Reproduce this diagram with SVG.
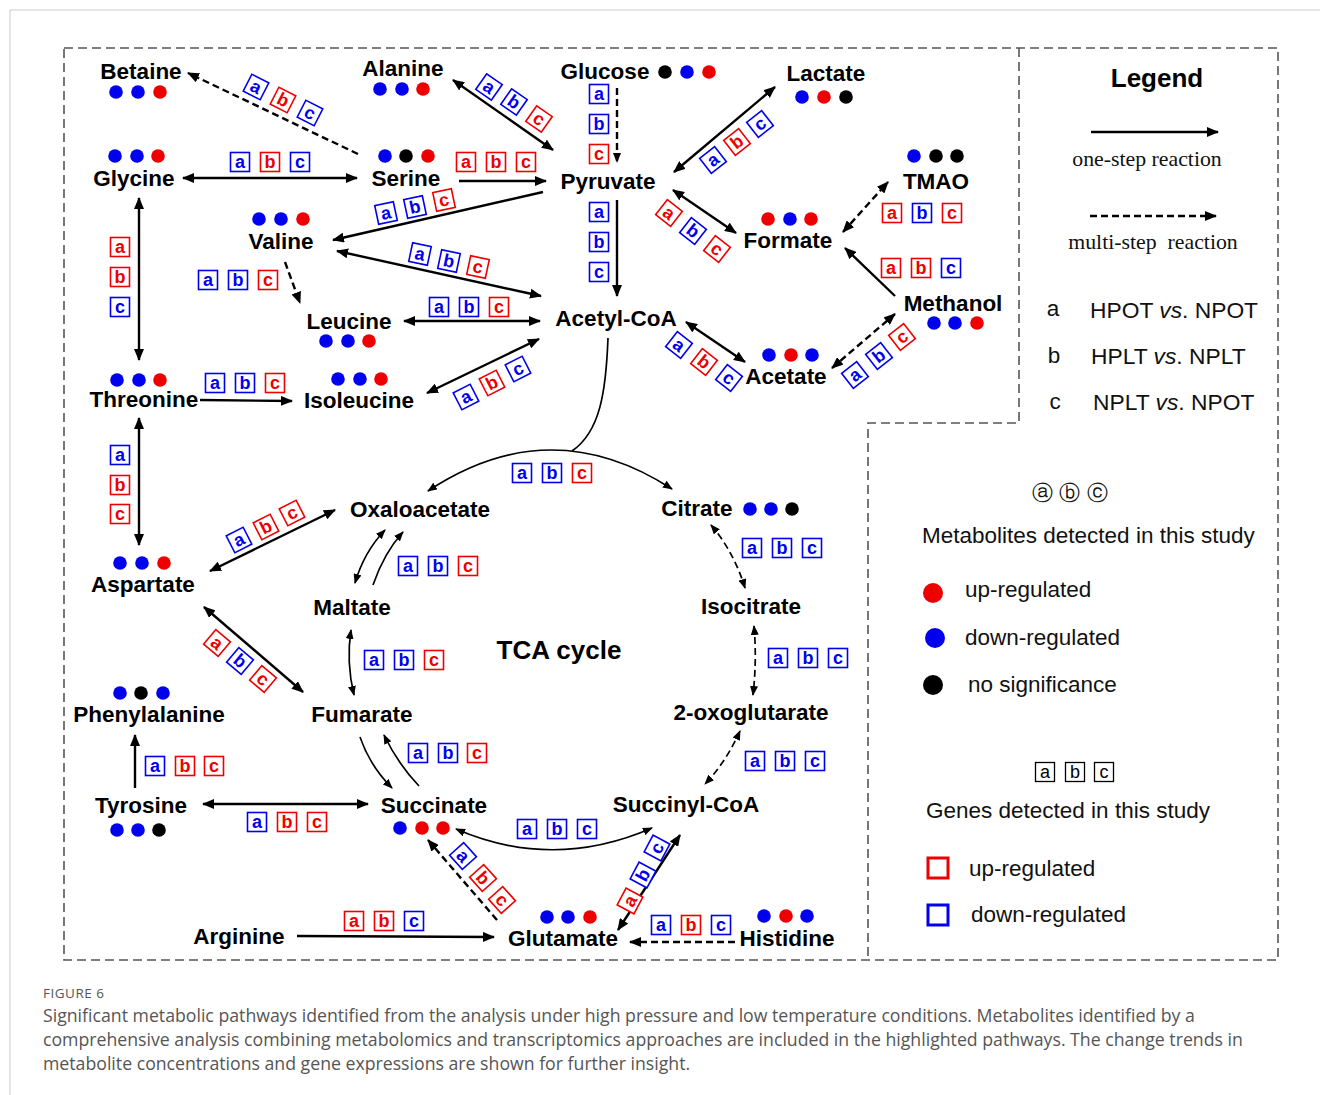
<svg xmlns="http://www.w3.org/2000/svg" width="1320" height="1095" viewBox="0 0 1320 1095">
<defs>
<marker id="ah" viewBox="0 0 12 10" refX="11" refY="5" markerWidth="12" markerHeight="10" orient="auto-start-reverse" markerUnits="userSpaceOnUse"><path d="M0,0 L12,5 L0,10 z" fill="#000"/></marker>
<marker id="ahs" viewBox="0 0 10 8" refX="9" refY="4" markerWidth="10" markerHeight="8" orient="auto-start-reverse" markerUnits="userSpaceOnUse"><path d="M0,0 L10,4 L0,8 z" fill="#000"/></marker>
<style>
.nd{font-family:"Liberation Sans",Arial,sans-serif;font-weight:bold;font-size:22.5px;fill:#000;text-anchor:middle}
.db{fill:#0000ee}.dr{fill:#ee0000}.dk{fill:#000}
.gb rect{fill:#fff;stroke-width:1.6}
.gb text{font-family:"Liberation Sans",Arial,sans-serif;font-weight:bold;font-size:18px;text-anchor:middle}
.r rect{stroke:#ee0000}.r text{fill:#ee0000}
.b rect{stroke:#0000ee}.b text{fill:#0000ee}
.k rect{stroke:#000;stroke-width:1.3}.k text{fill:#000;font-weight:normal}
.ln{fill:none;stroke:#000;stroke-width:2.4}
.th{fill:none;stroke:#000;stroke-width:1.7}
.ds{stroke-dasharray:7,4}
.frame{fill:none;stroke:#555;stroke-width:1.6;stroke-dasharray:9,5}
.lg{font-family:"Liberation Sans",Arial,sans-serif;font-size:22.5px;fill:#111}
.sf{font-family:"Liberation Serif","Times New Roman",serif;font-size:21.8px;fill:#111;text-anchor:middle}
.cap{font-family:"Open Sans","Noto Sans",sans-serif;font-size:17.7px;fill:#555}
</style>
</defs>
<rect width="1320" height="1095" fill="#fff"/>
<line x1="10" y1="10" x2="1320" y2="10" stroke="#ccc" stroke-width="1"/>
<line x1="10" y1="10" x2="10" y2="1095" stroke="#ccc" stroke-width="1"/>

<g id="frames">
<rect class="frame" x="64" y="48" width="1214" height="912"/>
<path class="frame" d="M1019,48 V423 H868 V960"/>
</g>

<g id="connectors">
<path class="ln ds" d="M358,154 L188,73" marker-end="url(#ah)"/>
<path class="ln" d="M183,178 L357,178" marker-start="url(#ah)" marker-end="url(#ah)"/>
<path class="ln" d="M453,80 L553,150" marker-start="url(#ah)" marker-end="url(#ah)"/>
<path class="ln ds" d="M617,88 L617,162" stroke-width="2" marker-end="url(#ahs)"/>
<path class="ln" d="M459,181 L546,181" marker-end="url(#ah)"/>
<path class="ln" d="M674,172 L775,87" marker-start="url(#ah)" marker-end="url(#ah)"/>
<path class="ln" d="M543,192 L333,240" marker-end="url(#ah)"/>
<path class="ln" d="M337,251 L541,296" marker-start="url(#ah)" marker-end="url(#ah)"/>
<path class="ln" d="M617,200 L617,296" marker-end="url(#ah)"/>
<path class="ln ds" d="M285,262 L300,303" marker-end="url(#ah)"/>
<path class="ln" d="M404,321 L540,321" marker-start="url(#ah)" marker-end="url(#ah)"/>
<path class="ln" d="M139,198 L139,360" marker-start="url(#ah)" marker-end="url(#ah)"/>
<path class="ln" d="M200,400 L292,401" marker-end="url(#ah)"/>
<path class="ln" d="M427,393 L539,339" marker-start="url(#ah)" marker-end="url(#ah)"/>
<path class="ln" d="M673,190 L736,233" marker-start="url(#ah)" marker-end="url(#ah)"/>
<path class="ln ds" d="M843,232 L888,182" marker-start="url(#ah)" marker-end="url(#ah)"/>
<path class="ln" d="M895,296 L845,248" marker-end="url(#ah)"/>
<path class="ln" d="M686,322 L745,362" marker-start="url(#ah)" marker-end="url(#ah)"/>
<path class="ln ds" d="M832,368 L895,314" marker-start="url(#ah)" marker-end="url(#ah)"/>
<path class="th" d="M428,491 Q550,410 672,489" marker-start="url(#ahs)" marker-end="url(#ahs)"/>
<path class="th" d="M608,338 C606,392 600,432 572,451" stroke-width="1.3"/>
<path class="ln" d="M335,510 L210,571" marker-start="url(#ah)" marker-end="url(#ah)"/>
<path class="ln" d="M139,418 L139,545" marker-start="url(#ah)" marker-end="url(#ah)"/>
<path class="th" d="M385,530 Q364,552 355,583" marker-start="url(#ahs)" marker-end="url(#ahs)"/>
<path class="th" d="M373,585 Q384,553 403,532" marker-end="url(#ahs)"/>
<path class="th" d="M351,630 Q346,662 354,695" marker-start="url(#ahs)" marker-end="url(#ahs)"/>
<path class="ln" d="M204,607 L303,692" marker-start="url(#ah)" marker-end="url(#ah)"/>
<path class="th ds" d="M711,525 Q734,552 745,588" stroke-dasharray="5,3" marker-start="url(#ahs)" marker-end="url(#ahs)"/>
<path class="th ds" d="M754,626 Q757,660 753,695" stroke-dasharray="5,3" marker-start="url(#ahs)" marker-end="url(#ahs)"/>
<path class="th ds" d="M740,731 Q726,762 705,784" stroke-dasharray="5,3" marker-start="url(#ahs)" marker-end="url(#ahs)"/>
<path class="th" d="M360,737 Q370,766 392,788" marker-end="url(#ahs)"/>
<path class="th" d="M419,786 Q398,764 384,735" marker-end="url(#ahs)"/>
<path class="ln" d="M135,788 L135,735" marker-end="url(#ah)"/>
<path class="ln" d="M203,804 L368,804" marker-start="url(#ah)" marker-end="url(#ah)"/>
<path class="th" d="M456,829 Q553,871 652,828" marker-start="url(#ahs)" marker-end="url(#ahs)"/>
<path class="ln ds" d="M497,920 L428,840" marker-end="url(#ah)"/>
<path class="ln" d="M618,930 L680,835" marker-start="url(#ah)" marker-end="url(#ah)"/>
<path class="ln" d="M297,936 L494,937" marker-end="url(#ah)"/>
<path class="ln ds" d="M735,942 L630,942" marker-end="url(#ah)"/>
</g>

<g id="gene-labels">
<g class="gb b" transform="translate(256,87) rotate(27)"><rect x="-9.5" y="-9.5" width="19" height="19"/><text y="6">a</text></g>
<g class="gb r" transform="translate(283,100) rotate(27)"><rect x="-9.5" y="-9.5" width="19" height="19"/><text y="6">b</text></g>
<g class="gb b" transform="translate(310,113) rotate(27)"><rect x="-9.5" y="-9.5" width="19" height="19"/><text y="6">c</text></g>

<g class="gb b" transform="translate(240,162)"><rect x="-9.5" y="-9.5" width="19" height="19"/><text y="6">a</text></g>
<g class="gb r" transform="translate(270,162)"><rect x="-9.5" y="-9.5" width="19" height="19"/><text y="6">b</text></g>
<g class="gb b" transform="translate(300,162)"><rect x="-9.5" y="-9.5" width="19" height="19"/><text y="6">c</text></g>

<g class="gb b" transform="translate(489,87) rotate(35)"><rect x="-9.5" y="-9.5" width="19" height="19"/><text y="6">a</text></g>
<g class="gb b" transform="translate(514,102) rotate(35)"><rect x="-9.5" y="-9.5" width="19" height="19"/><text y="6">b</text></g>
<g class="gb r" transform="translate(539,119) rotate(35)"><rect x="-9.5" y="-9.5" width="19" height="19"/><text y="6">c</text></g>

<g class="gb b" transform="translate(599,94)"><rect x="-9.5" y="-9.5" width="19" height="19"/><text y="6">a</text></g>
<g class="gb b" transform="translate(599,124)"><rect x="-9.5" y="-9.5" width="19" height="19"/><text y="6">b</text></g>
<g class="gb r" transform="translate(599,154)"><rect x="-9.5" y="-9.5" width="19" height="19"/><text y="6">c</text></g>

<g class="gb r" transform="translate(466,162)"><rect x="-9.5" y="-9.5" width="19" height="19"/><text y="6">a</text></g>
<g class="gb r" transform="translate(496,162)"><rect x="-9.5" y="-9.5" width="19" height="19"/><text y="6">b</text></g>
<g class="gb r" transform="translate(526,162)"><rect x="-9.5" y="-9.5" width="19" height="19"/><text y="6">c</text></g>

<g class="gb b" transform="translate(713,160) rotate(-38)"><rect x="-9.5" y="-9.5" width="19" height="19"/><text y="6">a</text></g>
<g class="gb r" transform="translate(737,142) rotate(-38)"><rect x="-9.5" y="-9.5" width="19" height="19"/><text y="6">b</text></g>
<g class="gb b" transform="translate(760,124) rotate(-38)"><rect x="-9.5" y="-9.5" width="19" height="19"/><text y="6">c</text></g>

<g class="gb b" transform="translate(386,213) rotate(-12)"><rect x="-9.5" y="-9.5" width="19" height="19"/><text y="6">a</text></g>
<g class="gb b" transform="translate(415,207) rotate(-12)"><rect x="-9.5" y="-9.5" width="19" height="19"/><text y="6">b</text></g>
<g class="gb r" transform="translate(444,200) rotate(-12)"><rect x="-9.5" y="-9.5" width="19" height="19"/><text y="6">c</text></g>

<g class="gb b" transform="translate(420,254) rotate(12)"><rect x="-9.5" y="-9.5" width="19" height="19"/><text y="6">a</text></g>
<g class="gb b" transform="translate(449,261) rotate(12)"><rect x="-9.5" y="-9.5" width="19" height="19"/><text y="6">b</text></g>
<g class="gb r" transform="translate(478,267) rotate(12)"><rect x="-9.5" y="-9.5" width="19" height="19"/><text y="6">c</text></g>

<g class="gb b" transform="translate(599,212)"><rect x="-9.5" y="-9.5" width="19" height="19"/><text y="6">a</text></g>
<g class="gb b" transform="translate(599,242)"><rect x="-9.5" y="-9.5" width="19" height="19"/><text y="6">b</text></g>
<g class="gb b" transform="translate(599,272)"><rect x="-9.5" y="-9.5" width="19" height="19"/><text y="6">c</text></g>

<g class="gb b" transform="translate(208,280)"><rect x="-9.5" y="-9.5" width="19" height="19"/><text y="6">a</text></g>
<g class="gb b" transform="translate(238,280)"><rect x="-9.5" y="-9.5" width="19" height="19"/><text y="6">b</text></g>
<g class="gb r" transform="translate(268,280)"><rect x="-9.5" y="-9.5" width="19" height="19"/><text y="6">c</text></g>

<g class="gb b" transform="translate(439,307)"><rect x="-9.5" y="-9.5" width="19" height="19"/><text y="6">a</text></g>
<g class="gb b" transform="translate(469,307)"><rect x="-9.5" y="-9.5" width="19" height="19"/><text y="6">b</text></g>
<g class="gb r" transform="translate(499,307)"><rect x="-9.5" y="-9.5" width="19" height="19"/><text y="6">c</text></g>

<g class="gb r" transform="translate(120,247)"><rect x="-9.5" y="-9.5" width="19" height="19"/><text y="6">a</text></g>
<g class="gb r" transform="translate(120,277)"><rect x="-9.5" y="-9.5" width="19" height="19"/><text y="6">b</text></g>
<g class="gb b" transform="translate(120,307)"><rect x="-9.5" y="-9.5" width="19" height="19"/><text y="6">c</text></g>

<g class="gb b" transform="translate(215,383)"><rect x="-9.5" y="-9.5" width="19" height="19"/><text y="6">a</text></g>
<g class="gb b" transform="translate(245,383)"><rect x="-9.5" y="-9.5" width="19" height="19"/><text y="6">b</text></g>
<g class="gb r" transform="translate(275,383)"><rect x="-9.5" y="-9.5" width="19" height="19"/><text y="6">c</text></g>

<g class="gb b" transform="translate(466,397) rotate(-27)"><rect x="-9.5" y="-9.5" width="19" height="19"/><text y="6">a</text></g>
<g class="gb r" transform="translate(492,383) rotate(-27)"><rect x="-9.5" y="-9.5" width="19" height="19"/><text y="6">b</text></g>
<g class="gb b" transform="translate(518,369) rotate(-27)"><rect x="-9.5" y="-9.5" width="19" height="19"/><text y="6">c</text></g>

<g class="gb r" transform="translate(669,213) rotate(38)"><rect x="-9.5" y="-9.5" width="19" height="19"/><text y="6">a</text></g>
<g class="gb b" transform="translate(693,231) rotate(38)"><rect x="-9.5" y="-9.5" width="19" height="19"/><text y="6">b</text></g>
<g class="gb r" transform="translate(717,249) rotate(38)"><rect x="-9.5" y="-9.5" width="19" height="19"/><text y="6">c</text></g>

<g class="gb r" transform="translate(892,213)"><rect x="-9.5" y="-9.5" width="19" height="19"/><text y="6">a</text></g>
<g class="gb b" transform="translate(922,213)"><rect x="-9.5" y="-9.5" width="19" height="19"/><text y="6">b</text></g>
<g class="gb r" transform="translate(952,213)"><rect x="-9.5" y="-9.5" width="19" height="19"/><text y="6">c</text></g>

<g class="gb r" transform="translate(891,268)"><rect x="-9.5" y="-9.5" width="19" height="19"/><text y="6">a</text></g>
<g class="gb r" transform="translate(921,268)"><rect x="-9.5" y="-9.5" width="19" height="19"/><text y="6">b</text></g>
<g class="gb b" transform="translate(951,268)"><rect x="-9.5" y="-9.5" width="19" height="19"/><text y="6">c</text></g>

<g class="gb b" transform="translate(679,345) rotate(38)"><rect x="-9.5" y="-9.5" width="19" height="19"/><text y="6">a</text></g>
<g class="gb r" transform="translate(704,362) rotate(38)"><rect x="-9.5" y="-9.5" width="19" height="19"/><text y="6">b</text></g>
<g class="gb b" transform="translate(729,378) rotate(38)"><rect x="-9.5" y="-9.5" width="19" height="19"/><text y="6">c</text></g>

<g class="gb b" transform="translate(855,375) rotate(-38)"><rect x="-9.5" y="-9.5" width="19" height="19"/><text y="6">a</text></g>
<g class="gb b" transform="translate(879,356) rotate(-38)"><rect x="-9.5" y="-9.5" width="19" height="19"/><text y="6">b</text></g>
<g class="gb r" transform="translate(902,337) rotate(-38)"><rect x="-9.5" y="-9.5" width="19" height="19"/><text y="6">c</text></g>

<g class="gb b" transform="translate(522,473)"><rect x="-9.5" y="-9.5" width="19" height="19"/><text y="6">a</text></g>
<g class="gb b" transform="translate(552,473)"><rect x="-9.5" y="-9.5" width="19" height="19"/><text y="6">b</text></g>
<g class="gb r" transform="translate(582,473)"><rect x="-9.5" y="-9.5" width="19" height="19"/><text y="6">c</text></g>

<g class="gb b" transform="translate(239,540) rotate(-27)"><rect x="-9.5" y="-9.5" width="19" height="19"/><text y="6">a</text></g>
<g class="gb r" transform="translate(266,527) rotate(-27)"><rect x="-9.5" y="-9.5" width="19" height="19"/><text y="6">b</text></g>
<g class="gb r" transform="translate(292,513) rotate(-27)"><rect x="-9.5" y="-9.5" width="19" height="19"/><text y="6">c</text></g>

<g class="gb b" transform="translate(120,455)"><rect x="-9.5" y="-9.5" width="19" height="19"/><text y="6">a</text></g>
<g class="gb r" transform="translate(120,485)"><rect x="-9.5" y="-9.5" width="19" height="19"/><text y="6">b</text></g>
<g class="gb r" transform="translate(120,514)"><rect x="-9.5" y="-9.5" width="19" height="19"/><text y="6">c</text></g>

<g class="gb b" transform="translate(408,566)"><rect x="-9.5" y="-9.5" width="19" height="19"/><text y="6">a</text></g>
<g class="gb b" transform="translate(438,566)"><rect x="-9.5" y="-9.5" width="19" height="19"/><text y="6">b</text></g>
<g class="gb r" transform="translate(468,566)"><rect x="-9.5" y="-9.5" width="19" height="19"/><text y="6">c</text></g>

<g class="gb b" transform="translate(374,660)"><rect x="-9.5" y="-9.5" width="19" height="19"/><text y="6">a</text></g>
<g class="gb b" transform="translate(404,660)"><rect x="-9.5" y="-9.5" width="19" height="19"/><text y="6">b</text></g>
<g class="gb r" transform="translate(434,660)"><rect x="-9.5" y="-9.5" width="19" height="19"/><text y="6">c</text></g>

<g class="gb r" transform="translate(217,643) rotate(40)"><rect x="-9.5" y="-9.5" width="19" height="19"/><text y="6">a</text></g>
<g class="gb b" transform="translate(240,661) rotate(40)"><rect x="-9.5" y="-9.5" width="19" height="19"/><text y="6">b</text></g>
<g class="gb r" transform="translate(263,679) rotate(40)"><rect x="-9.5" y="-9.5" width="19" height="19"/><text y="6">c</text></g>

<g class="gb b" transform="translate(752,548)"><rect x="-9.5" y="-9.5" width="19" height="19"/><text y="6">a</text></g>
<g class="gb b" transform="translate(782,548)"><rect x="-9.5" y="-9.5" width="19" height="19"/><text y="6">b</text></g>
<g class="gb b" transform="translate(812,548)"><rect x="-9.5" y="-9.5" width="19" height="19"/><text y="6">c</text></g>

<g class="gb b" transform="translate(778,658)"><rect x="-9.5" y="-9.5" width="19" height="19"/><text y="6">a</text></g>
<g class="gb b" transform="translate(808,658)"><rect x="-9.5" y="-9.5" width="19" height="19"/><text y="6">b</text></g>
<g class="gb b" transform="translate(838,658)"><rect x="-9.5" y="-9.5" width="19" height="19"/><text y="6">c</text></g>

<g class="gb b" transform="translate(755,761)"><rect x="-9.5" y="-9.5" width="19" height="19"/><text y="6">a</text></g>
<g class="gb b" transform="translate(785,761)"><rect x="-9.5" y="-9.5" width="19" height="19"/><text y="6">b</text></g>
<g class="gb b" transform="translate(815,761)"><rect x="-9.5" y="-9.5" width="19" height="19"/><text y="6">c</text></g>

<g class="gb b" transform="translate(418,753)"><rect x="-9.5" y="-9.5" width="19" height="19"/><text y="6">a</text></g>
<g class="gb b" transform="translate(448,753)"><rect x="-9.5" y="-9.5" width="19" height="19"/><text y="6">b</text></g>
<g class="gb r" transform="translate(477,753)"><rect x="-9.5" y="-9.5" width="19" height="19"/><text y="6">c</text></g>

<g class="gb b" transform="translate(155,766)"><rect x="-9.5" y="-9.5" width="19" height="19"/><text y="6">a</text></g>
<g class="gb r" transform="translate(185,766)"><rect x="-9.5" y="-9.5" width="19" height="19"/><text y="6">b</text></g>
<g class="gb r" transform="translate(214,766)"><rect x="-9.5" y="-9.5" width="19" height="19"/><text y="6">c</text></g>

<g class="gb b" transform="translate(257,822)"><rect x="-9.5" y="-9.5" width="19" height="19"/><text y="6">a</text></g>
<g class="gb r" transform="translate(287,822)"><rect x="-9.5" y="-9.5" width="19" height="19"/><text y="6">b</text></g>
<g class="gb r" transform="translate(317,822)"><rect x="-9.5" y="-9.5" width="19" height="19"/><text y="6">c</text></g>

<g class="gb b" transform="translate(527,829)"><rect x="-9.5" y="-9.5" width="19" height="19"/><text y="6">a</text></g>
<g class="gb b" transform="translate(557,829)"><rect x="-9.5" y="-9.5" width="19" height="19"/><text y="6">b</text></g>
<g class="gb b" transform="translate(587,829)"><rect x="-9.5" y="-9.5" width="19" height="19"/><text y="6">c</text></g>

<g class="gb b" transform="translate(463,856) rotate(48)"><rect x="-9.5" y="-9.5" width="19" height="19"/><text y="6">a</text></g>
<g class="gb r" transform="translate(483,878) rotate(48)"><rect x="-9.5" y="-9.5" width="19" height="19"/><text y="6">b</text></g>
<g class="gb r" transform="translate(502,900) rotate(48)"><rect x="-9.5" y="-9.5" width="19" height="19"/><text y="6">c</text></g>

<g class="gb r" transform="translate(630,901) rotate(-62)"><rect x="-9.5" y="-9.5" width="19" height="19"/><text y="6">a</text></g>
<g class="gb b" transform="translate(643,875) rotate(-62)"><rect x="-9.5" y="-9.5" width="19" height="19"/><text y="6">b</text></g>
<g class="gb b" transform="translate(657,848) rotate(-62)"><rect x="-9.5" y="-9.5" width="19" height="19"/><text y="6">c</text></g>

<g class="gb r" transform="translate(354,921)"><rect x="-9.5" y="-9.5" width="19" height="19"/><text y="6">a</text></g>
<g class="gb r" transform="translate(384,921)"><rect x="-9.5" y="-9.5" width="19" height="19"/><text y="6">b</text></g>
<g class="gb b" transform="translate(414,921)"><rect x="-9.5" y="-9.5" width="19" height="19"/><text y="6">c</text></g>

<g class="gb b" transform="translate(661,925)"><rect x="-9.5" y="-9.5" width="19" height="19"/><text y="6">a</text></g>
<g class="gb r" transform="translate(691,925)"><rect x="-9.5" y="-9.5" width="19" height="19"/><text y="6">b</text></g>
<g class="gb b" transform="translate(721,925)"><rect x="-9.5" y="-9.5" width="19" height="19"/><text y="6">c</text></g>
</g>

<g id="n-betaine"><text class="nd" x="141" y="79">Betaine</text><circle class="db" cx="116" cy="92" r="6.8"/><circle class="db" cx="138" cy="92" r="6.8"/><circle class="dr" cx="160" cy="92" r="6.8"/></g>
<g id="n-alanine"><text class="nd" x="403" y="76">Alanine</text><circle class="db" cx="380" cy="89" r="6.8"/><circle class="db" cx="402" cy="89" r="6.8"/><circle class="dr" cx="423" cy="89" r="6.8"/></g>
<g id="n-glucose"><text class="nd" x="605" y="79">Glucose</text><circle class="dk" cx="665" cy="72" r="6.8"/><circle class="db" cx="687" cy="72" r="6.8"/><circle class="dr" cx="709" cy="72" r="6.8"/></g>
<g id="n-lactate"><text class="nd" x="826" y="81">Lactate</text><circle class="db" cx="802" cy="97" r="6.8"/><circle class="dr" cx="824" cy="97" r="6.8"/><circle class="dk" cx="846" cy="97" r="6.8"/></g>
<g id="n-glycine"><text class="nd" x="134" y="186">Glycine</text><circle class="db" cx="115" cy="156" r="6.8"/><circle class="db" cx="137" cy="156" r="6.8"/><circle class="dr" cx="158" cy="156" r="6.8"/></g>
<g id="n-serine"><text class="nd" x="406" y="186">Serine</text><circle class="db" cx="385" cy="156" r="6.8"/><circle class="dk" cx="406" cy="156" r="6.8"/><circle class="dr" cx="428" cy="156" r="6.8"/></g>
<g id="n-pyruvate"><text class="nd" x="608" y="189">Pyruvate</text></g>
<g id="n-tmao"><text class="nd" x="936" y="189">TMAO</text><circle class="db" cx="914" cy="156" r="6.8"/><circle class="dk" cx="936" cy="156" r="6.8"/><circle class="dk" cx="957" cy="156" r="6.8"/></g>
<g id="n-valine"><text class="nd" x="281" y="249">Valine</text><circle class="db" cx="259" cy="219" r="6.8"/><circle class="db" cx="281" cy="219" r="6.8"/><circle class="dr" cx="303" cy="219" r="6.8"/></g>
<g id="n-formate"><text class="nd" x="788" y="248">Formate</text><circle class="dr" cx="768" cy="219" r="6.8"/><circle class="db" cx="790" cy="219" r="6.8"/><circle class="dr" cx="811" cy="219" r="6.8"/></g>
<g id="n-methanol"><text class="nd" x="953" y="311">Methanol</text><circle class="db" cx="934" cy="323" r="6.8"/><circle class="db" cx="955" cy="323" r="6.8"/><circle class="dr" cx="977" cy="323" r="6.8"/></g>
<g id="n-leucine"><text class="nd" x="349" y="329">Leucine</text><circle class="db" cx="326" cy="341" r="6.8"/><circle class="db" cx="348" cy="341" r="6.8"/><circle class="dr" cx="369" cy="341" r="6.8"/></g>
<g id="n-acetylcoa"><text class="nd" x="616" y="326">Acetyl-CoA</text></g>
<g id="n-acetate"><text class="nd" x="786" y="384">Acetate</text><circle class="db" cx="769" cy="355" r="6.8"/><circle class="dr" cx="791" cy="355" r="6.8"/><circle class="db" cx="812" cy="355" r="6.8"/></g>
<g id="n-threonine"><text class="nd" x="144" y="407">Threonine</text><circle class="db" cx="117" cy="380" r="6.8"/><circle class="db" cx="139" cy="380" r="6.8"/><circle class="dr" cx="160" cy="380" r="6.8"/></g>
<g id="n-isoleucine"><text class="nd" x="359" y="408">Isoleucine</text><circle class="db" cx="338" cy="379" r="6.8"/><circle class="db" cx="360" cy="379" r="6.8"/><circle class="dr" cx="381" cy="379" r="6.8"/></g>
<g id="n-oxaloacetate"><text class="nd" x="420" y="517">Oxaloacetate</text></g>
<g id="n-citrate"><text class="nd" x="697" y="516">Citrate</text><circle class="db" cx="750" cy="509" r="6.8"/><circle class="db" cx="771" cy="509" r="6.8"/><circle class="dk" cx="792" cy="509" r="6.8"/></g>
<g id="n-aspartate"><text class="nd" x="143" y="592">Aspartate</text><circle class="db" cx="120" cy="563" r="6.8"/><circle class="db" cx="142" cy="563" r="6.8"/><circle class="dr" cx="164" cy="563" r="6.8"/></g>
<g id="n-maltate"><text class="nd" x="352" y="615">Maltate</text></g>
<g id="n-isocitrate"><text class="nd" x="751" y="614">Isocitrate</text></g>
<g id="n-tca"><text class="nd" x="559" y="659" style="font-size:26px">TCA cycle</text></g>
<g id="n-phenylalanine"><text class="nd" x="149" y="722">Phenylalanine</text><circle class="db" cx="120" cy="693" r="6.8"/><circle class="dk" cx="141" cy="693" r="6.8"/><circle class="db" cx="163" cy="693" r="6.8"/></g>
<g id="n-fumarate"><text class="nd" x="362" y="722">Fumarate</text></g>
<g id="n-2oxoglutarate"><text class="nd" x="751" y="720">2-oxoglutarate</text></g>
<g id="n-tyrosine"><text class="nd" x="141" y="813">Tyrosine</text><circle class="db" cx="117" cy="830" r="6.8"/><circle class="db" cx="138" cy="830" r="6.8"/><circle class="dk" cx="159" cy="830" r="6.8"/></g>
<g id="n-succinate"><text class="nd" x="434" y="813">Succinate</text><circle class="db" cx="400" cy="828" r="6.8"/><circle class="dr" cx="422" cy="828" r="6.8"/><circle class="dr" cx="443" cy="828" r="6.8"/></g>
<g id="n-succinylcoa"><text class="nd" x="686" y="812">Succinyl-CoA</text></g>
<g id="n-arginine"><text class="nd" x="239" y="944">Arginine</text></g>
<g id="n-glutamate"><text class="nd" x="563" y="946">Glutamate</text><circle class="db" cx="547" cy="917" r="6.8"/><circle class="db" cx="568" cy="917" r="6.8"/><circle class="dr" cx="590" cy="917" r="6.8"/></g>
<g id="n-histidine"><text class="nd" x="787" y="946">Histidine</text><circle class="db" cx="764" cy="916" r="6.8"/><circle class="dr" cx="786" cy="916" r="6.8"/><circle class="db" cx="807" cy="916" r="6.8"/></g>

<g id="legend">
<text x="1157" y="87" style="font-family:'Liberation Sans',Arial,sans-serif;font-weight:bold;font-size:26px;text-anchor:middle">Legend</text>
<path class="ln" d="M1091,132 L1218,132" marker-end="url(#ah)"/>
<text class="sf" x="1147" y="166">one-step reaction</text>
<path class="ln ds" d="M1090,216 L1216,216" marker-end="url(#ah)"/>
<text class="sf" x="1153" y="249" xml:space="preserve">multi-step  reaction</text>
<text class="lg" x="1053" y="316" text-anchor="middle">a</text>
<text class="lg" x="1090" y="318" style="font-size:22.8px">HPOT <tspan font-style="italic">vs</tspan>. NPOT</text>
<text class="lg" x="1054" y="363" text-anchor="middle">b</text>
<text class="lg" x="1091" y="364" style="font-size:22.8px">HPLT <tspan font-style="italic">vs</tspan>. NPLT</text>
<text class="lg" x="1055" y="409" text-anchor="middle">c</text>
<text class="lg" x="1093" y="410" style="font-size:22.8px">NPLT <tspan font-style="italic">vs</tspan>. NPOT</text>
<text x="1070" y="500" style="font-family:'DejaVu Sans',sans-serif;font-size:21px;text-anchor:middle;fill:#111">ⓐ ⓑ ⓒ</text>
<text class="lg" x="922" y="543">Metabolites detected in this study</text>
<circle class="dr" cx="933" cy="593" r="10"/><text class="lg" x="965" y="597">up-regulated</text>
<circle class="db" cx="935" cy="638" r="10"/><text class="lg" x="965" y="645">down-regulated</text>
<circle class="dk" cx="933" cy="685" r="10"/><text class="lg" x="968" y="692">no significance</text>
<g class="gb k" transform="translate(1045,772)"><rect x="-9.5" y="-9.5" width="19" height="19"/><text y="6">a</text></g>
<g class="gb k" transform="translate(1075,772)"><rect x="-9.5" y="-9.5" width="19" height="19"/><text y="6">b</text></g>
<g class="gb k" transform="translate(1104,772)"><rect x="-9.5" y="-9.5" width="19" height="19"/><text y="6">c</text></g>
<text class="lg" x="926" y="818">Genes detected in this study</text>
<rect x="928" y="858" width="20" height="20" fill="none" stroke="#ee0000" stroke-width="3"/><text class="lg" x="969" y="876">up-regulated</text>
<rect x="928" y="905" width="20" height="20" fill="none" stroke="#0000ee" stroke-width="3"/><text class="lg" x="971" y="922">down-regulated</text>
</g>

<g id="caption">
<text x="43" y="998" style="font-family:'Open Sans','Noto Sans',sans-serif;font-size:13.5px;fill:#555;letter-spacing:0.5px">FIGURE 6</text>
<text class="cap" x="43" y="1022">Significant metabolic pathways identified from the analysis under high pressure and low temperature conditions. Metabolites identified by a</text>
<text class="cap" x="43" y="1046">comprehensive analysis combining metabolomics and transcriptomics approaches are included in the highlighted pathways. The change trends in</text>
<text class="cap" x="43" y="1070">metabolite concentrations and gene expressions are shown for further insight.</text>
</g>
</svg>
